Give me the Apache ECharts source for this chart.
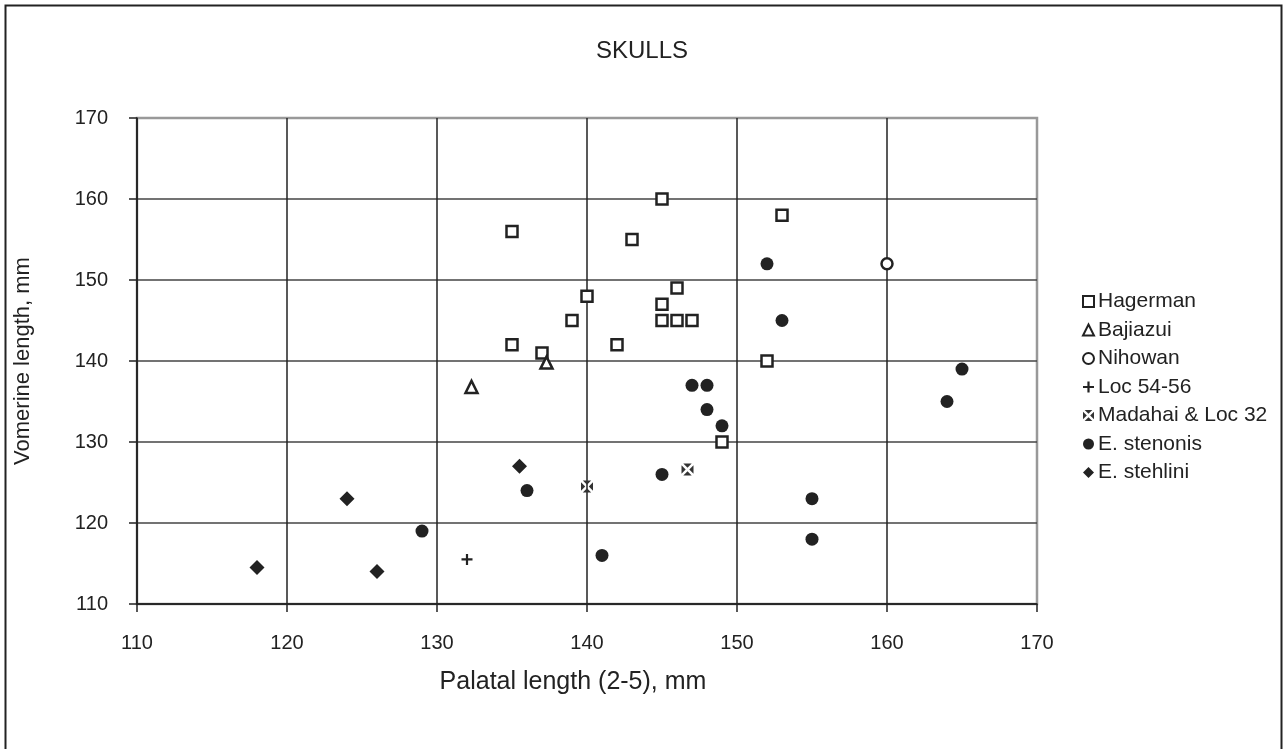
<!DOCTYPE html>
<html>
<head>
<meta charset="utf-8">
<script src="https://cdn.jsdelivr.net/npm/echarts@6/dist/echarts.min.js"></script>
<style>
html,body{margin:0;padding:0;background:#fff;}
#c{width:1284px;height:749px;}
</style>
</head>
<body>
<div id="c"></div>
<script>
const xTicks = [110, 120, 130, 140, 150, 160, 170];
const yTicks = [110, 120, 130, 140, 150, 160, 170];
const seriesNames = ['Hagerman', 'Bajiazui', 'Nihowan', 'Loc 54-56', 'Madahai & Loc 32', 'E. stenonis', 'E. stehlini'];
const hagerman = [[135,156],[145,160],[143,155],[153,158],[140,148],[146,149],[145,147],[139,145],[145,145],[146,145],[147,145],[135,142],[137,141],[142,142],[152,140],[149,130]];
const bajiazui = [[132.3,136.8],[137.3,139.8]];
const nihowan = [[160,152]];
const loc5456 = [[132,115.5]];
const madahai = [[140,124.5],[146.7,126.6]];
const stenonis = [[152,152],[153,145],[165,139],[164,135],[155,123],[155,118],[147,137],[148,137],[148,134],[149,132],[145,126],[136,124],[129,119],[141,116]];
const stehlini = [[135.5,127],[124,123],[118,114.5],[126,114]];

const dark = '#222';
const FONT = 'Liberation Sans, Arial, sans-serif';
const plusPath = 'path://M4,0 H6 V4 H10 V6 H6 V10 H4 V6 H0 V4 H4 Z';
const xboxPath = 'path://M1.5,0 L8.5,0 L5,3.5 Z M10,1.5 L10,8.5 L6.5,5 Z M1.5,10 L8.5,10 L5,6.5 Z M0,1.5 L0,8.5 L3.5,5 Z';

const chart = echarts.init(document.getElementById('c'));
const lastHidden = (c) => [c, c, c, c, c, c, 'rgba(0,0,0,0)'];
chart.setOption({
  animation: false,
  backgroundColor: '#fff',
  textStyle: { fontFamily: FONT },
  graphic: [{
    type: 'rect', left: 3, top: 3, z: -10,
    shape: { width: 1276, height: 800 },
    style: { fill: 'none', stroke: '#222', lineWidth: 2 }
  }],
  title: {
    text: 'SKULLS', left: 'center', top: 34,
    textStyle: { fontSize: 24, fontWeight: 'normal', color: dark, fontFamily: FONT }
  },
  grid: { left: 137, top: 118, width: 900, height: 486, show: true, borderColor: '#999', borderWidth: 2.5, backgroundColor: 'transparent' },
  legend: {
    orient: 'vertical', left: 1077, top: 286,
    itemWidth: 11, itemHeight: 11, itemGap: 7.5,
    textStyle: { fontSize: 21, color: dark, fontFamily: FONT, padding: [0, 0, 0, -1] },
    data: seriesNames
  },
  xAxis: {
    type: 'value', min: xTicks[0], max: xTicks[xTicks.length-1], interval: 10,
    name: 'Palatal length (2-5), mm', nameLocation: 'middle', nameGap: 66,
    nameTextStyle: { fontSize: 25, color: dark, fontFamily: FONT, padding: [0, 28, 0, 0] },
    axisLine: { show: true, onZero: false, lineStyle: { color: dark, width: 1.5 } },
    axisTick: { show: true, length: 8, lineStyle: { color: dark, width: 1.5 } },
    axisLabel: { fontSize: 20, color: dark, margin: 29, fontFamily: FONT },
    splitLine: { show: true, lineStyle: { color: lastHidden('#222'), width: 1.5 } }
  },
  yAxis: {
    type: 'value', min: yTicks[0], max: yTicks[yTicks.length-1], interval: 10,
    name: 'Vomerine length, mm', nameLocation: 'middle', nameGap: 103,
    nameTextStyle: { fontSize: 22, color: dark, fontFamily: FONT },
    axisLine: { show: true, onZero: false, lineStyle: { color: dark, width: 1.5 } },
    axisTick: { show: true, length: 8, lineStyle: { color: dark, width: 1.5 } },
    axisLabel: { fontSize: 20, color: dark, margin: 29, fontFamily: FONT },
    splitLine: { show: true, lineStyle: { color: ['#222','#444','#444','#444','#444','#444','rgba(0,0,0,0)'], width: 1.5 } }
  },
  series: [
    { name: seriesNames[0], type: 'scatter', data: hagerman, symbol: 'rect', symbolSize: 11,
      itemStyle: { color: '#fff', borderColor: dark, borderWidth: 2.5, opacity: 1 } },
    { name: seriesNames[1], type: 'scatter', data: bajiazui, symbol: 'triangle', symbolSize: 12,
      itemStyle: { color: '#fff', borderColor: dark, borderWidth: 2.5, opacity: 1 } },
    { name: seriesNames[2], type: 'scatter', data: nihowan, symbol: 'circle', symbolSize: 11,
      itemStyle: { color: '#fff', borderColor: dark, borderWidth: 2.5, opacity: 1 } },
    { name: seriesNames[3], type: 'scatter', data: loc5456, symbol: plusPath, symbolSize: 11,
      itemStyle: { color: dark, opacity: 1 } },
    { name: seriesNames[4], type: 'scatter', data: madahai, symbol: xboxPath, symbolSize: 12,
      itemStyle: { color: '#333', opacity: 1 } },
    { name: seriesNames[5], type: 'scatter', data: stenonis, symbol: 'circle', symbolSize: 13,
      itemStyle: { color: dark, opacity: 1 } },
    { name: seriesNames[6], type: 'scatter', data: stehlini, symbol: 'diamond', symbolSize: 15,
      itemStyle: { color: dark, opacity: 1 } }
  ]
});
</script>
</body>
</html>
